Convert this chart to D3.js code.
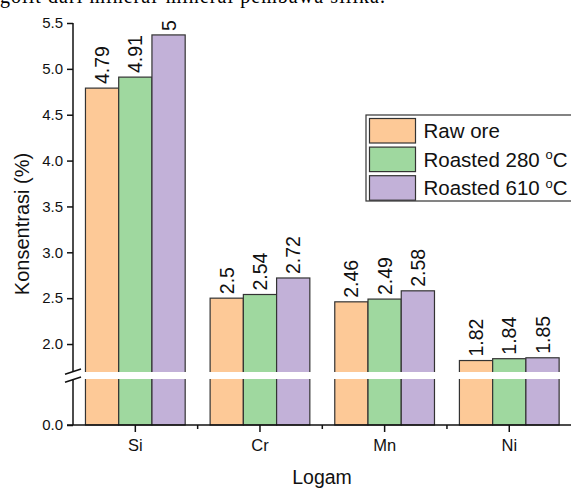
<!DOCTYPE html>
<html>
<head>
<meta charset="utf-8">
<script src="https://cdn.jsdelivr.net/npm/d3@7"></script>
<style>
  body { margin: 0; background: #fff; }
  svg { display: block; }
</style>
</head>
<body>
<div id="chart"></div>
<script>
(function (d3) {
  'use strict';

  // data
  const categories = ['Si', 'Cr', 'Mn', 'Ni'];
  const seriesNames = ['Raw ore', 'Roasted 280 °C', 'Roasted 610 °C'];
  const rawOre = [4.79, 2.50, 2.46, 1.82];
  const roasted280 = [4.91, 2.54, 2.49, 1.84];
  const roasted610 = [5.37, 2.72, 2.58, 1.85];
  const rawOreLabels = ['4.79', '2.5', '2.46', '1.82'];
  const roasted280Labels = ['4.91', '2.54', '2.49', '1.84'];
  const roasted610Labels = ['5', '2.72', '2.58', '1.85'];
  const upperTicks = [2.0, 2.5, 3.0, 3.5, 4.0, 4.5, 5.0, 5.5];
  const lowerTicks = [0.0];

  const colors = ['#fdc997', '#9fd89f', '#c2b1d8'];
  const FONT = "'Liberation Sans', Arial, sans-serif";
  const width = 571, height = 488;
  const left = 73, right = 571.6, bottom = 425;

  const series = [rawOre, roasted280, roasted610];
  const labels = [rawOreLabels, roasted280Labels, roasted610Labels];

  const svg = d3.select('#chart').append('svg')
      .attr('width', width)
      .attr('height', height)
      .attr('font-family', FONT);

  // caption of the page, cut off at the top
  svg.append('text')
      .attr('x', 0)
      .attr('y', 3)
      .attr('font-family', "'Liberation Serif', 'Times New Roman', serif")
      .attr('font-size', 20)
      .attr('textLength', 385)
      .text('golit dari mineral-mineral pembawa silika.');

  const x = d3.scaleBand().domain(categories).range([left, right])
      .paddingInner(0.2).paddingOuter(0.1);
  const xs = d3.scaleBand().domain(d3.range(series.length)).range([0, x.bandwidth()]);

  // broken axis: two linear segments
  const yUp = d3.scaleLinear().domain([1.695, 5.5]).range([372, 23]);
  const yLow = d3.scaleLinear().domain([0, 0.5]).range([bottom, 379]);
  function yPos(v) { return v >= 1.695 ? yUp(v) : yLow(v); }

  const rows = [];
  categories.forEach(function (c, i) {
    series.forEach(function (s, j) {
      rows.push({ cat: c, k: j, v: s[i], label: labels[j][i] });
    });
  });

  const g = svg.append('g');
  g.selectAll('rect.bar').data(rows).enter()
    .append('rect')
      .attr('class', 'bar')
      .attr('x', function (d) { return x(d.cat) + xs(d.k); })
      .attr('y', function (d) { return yPos(d.v); })
      .attr('width', xs.bandwidth())
      .attr('height', function (d) { return bottom - yPos(d.v); })
      .attr('fill', function (d) { return colors[d.k]; })
      .attr('stroke', '#333')
      .attr('stroke-width', 1.2);

  g.selectAll('text.val').data(rows).enter()
    .append('text')
      .attr('class', 'val')
      .attr('transform', function (d) {
        const cx = x(d.cat) + xs(d.k) + xs.bandwidth() / 2;
        return 'translate(' + cx + ',' + (yPos(d.v) - 4) + ') rotate(-90)';
      })
      .attr('dy', '0.36em')
      .attr('font-family', FONT)
      .attr('font-size', 19.5)
      .attr('fill', '#111')
      .text(function (d) { return d.label; });

  // white gap of the axis break
  svg.append('rect')
      .attr('x', 66)
      .attr('y', 372)
      .attr('width', width)
      .attr('height', 7)
      .attr('fill', '#fff');

  // y axis
  const yAxisUp = svg.append('g')
      .attr('transform', 'translate(' + left + ',0)')
      .call(d3.axisLeft(yUp).tickValues(upperTicks).tickFormat(d3.format('.1f')).tickSize(6).tickPadding(4));
  const yAxisLow = svg.append('g')
      .attr('transform', 'translate(' + left + ',0)')
      .call(d3.axisLeft(yLow).tickValues(lowerTicks).tickFormat(d3.format('.1f')).tickSize(6).tickPadding(4));
  [yAxisUp, yAxisLow].forEach(function (a) {
    a.attr('font-family', FONT);
    a.select('.domain').attr('d', null);
    a.selectAll('line').attr('stroke', '#111').attr('stroke-width', 1.5);
    a.selectAll('text').attr('font-size', 15).attr('fill', '#111');
  });
  svg.append('line')
      .attr('x1', left).attr('x2', left).attr('y1', 23).attr('y2', 372)
      .attr('stroke', '#111').attr('stroke-width', 1.5);
  svg.append('line')
      .attr('x1', left).attr('x2', left).attr('y1', 379).attr('y2', bottom)
      .attr('stroke', '#111').attr('stroke-width', 1.5);

  // break marks
  svg.selectAll('line.brk').data([374.3, 382.3]).enter()
    .append('line')
      .attr('class', 'brk')
      .attr('x1', 65).attr('y1', function (d) { return d; })
      .attr('x2', 81).attr('y2', function (d) { return d - 5.3; })
      .attr('stroke', '#111').attr('stroke-width', 1.5);

  // x axis
  const xAxis = svg.append('g')
      .attr('transform', 'translate(0,' + bottom + ')')
      .attr('font-family', FONT)
      .call(d3.axisBottom(x).tickSize(7).tickPadding(7));
  xAxis.attr('font-family', FONT);
  xAxis.select('.domain').attr('d', 'M' + (left - 6) + ',0H' + width)
      .attr('stroke', '#111').attr('stroke-width', 1.5);
  xAxis.selectAll('line').attr('stroke', '#111').attr('stroke-width', 1.5);
  xAxis.selectAll('text').attr('font-size', 16.5).attr('fill', '#111');

  // minor ticks between the groups
  const minor = categories.slice(1).map(function (c) { return x(c) - x.step() * x.paddingInner() / 2; });
  xAxis.selectAll('line.minor').data(minor).enter()
    .append('line')
      .attr('class', 'minor')
      .attr('x1', function (d) { return d; }).attr('x2', function (d) { return d; })
      .attr('y1', 0).attr('y2', 4)
      .attr('stroke', '#111').attr('stroke-width', 1.5);

  // axis titles
  svg.append('text')
      .attr('x', (left + width) / 2)
      .attr('y', 484)
      .attr('text-anchor', 'middle')
      .attr('font-family', FONT)
      .attr('font-size', 19.5)
      .attr('fill', '#111')
      .text('Logam');
  svg.append('text')
      .attr('transform', 'translate(29,224) rotate(-90)')
      .attr('text-anchor', 'middle')
      .attr('font-family', FONT)
      .attr('font-size', 20)
      .attr('fill', '#111')
      .text('Konsentrasi (%)');

  // legend
  const legend = svg.append('g');
  legend.append('rect')
      .attr('x', 366).attr('y', 115)
      .attr('width', 220).attr('height', 86)
      .attr('fill', '#fff')
      .attr('stroke', '#333').attr('stroke-width', 1.2);
  const item = legend.selectAll('g.item').data(seriesNames).enter()
    .append('g')
      .attr('class', 'item')
      .attr('transform', function (d, i) { return 'translate(369.5,' + (118.5 + i * 28.6) + ')'; });
  item.append('rect')
      .attr('width', 46).attr('height', 24.5)
      .attr('fill', function (d, i) { return colors[i]; })
      .attr('stroke', '#333').attr('stroke-width', 1.2);
  const txt = item.append('text')
      .attr('x', 54).attr('y', 19.5)
      .attr('font-family', FONT)
      .attr('font-size', 20.5)
      .attr('fill', '#111');
  txt.each(function (d) {
    const t = d3.select(this);
    const parts = d.split('°');
    t.append('tspan').text(parts[0]);
    if (parts.length > 1) {
      t.append('tspan').attr('dy', -7.5).attr('font-size', 13).text('o');
      t.append('tspan').attr('dy', 7.5).text(parts[1]);
    }
  });
})(d3);
</script>
</body>
</html>
